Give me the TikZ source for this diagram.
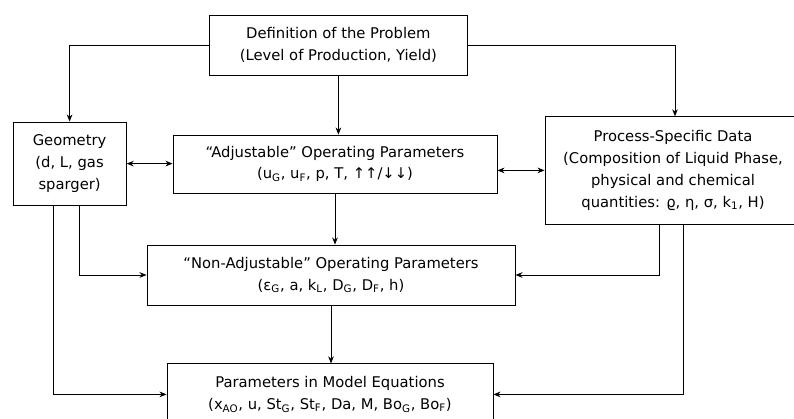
\documentclass[tikz,border=0pt]{standalone}
\usepackage{fontspec}
\setmainfont{DejaVu Sans}
\usetikzlibrary{arrows.meta,positioning,calc}

\begin{document}
\begin{tikzpicture}[
    box/.style={draw, line width=0.7pt, align=center, inner sep=2pt, font=\fontsize{10.5}{15.5}\selectfont},
    arr/.style={-{Stealth[length=5pt,width=4pt]}, line width=0.6pt},
    biarr/.style={{Stealth[length=5pt,width=4pt]}-{Stealth[length=5pt,width=4pt]}, line width=0.6pt}
]
\useasboundingbox (0,0) rectangle (19.85,-10.475);

\node[box, minimum width=6.43cm, minimum height=1.5cm] (def) at (8.46,-1.125) {Definition of the Problem\\(Level of Production, Yield)};
\node[box, minimum width=2.83cm, minimum height=2.08cm] (geo) at (1.74,-4.09) {Geometry\\(d, L, gas\\sparger)};
\node[box, minimum width=8.1cm, minimum height=1.45cm] (adj) at (8.375,-4.1) {``Adjustable'' Operating Parameters\\(u\textsubscript{G}, u\textsubscript{F}, p, T, ↑↑/↓↓)};
\node[box, minimum width=6.4cm, minimum height=2.68cm] (proc) at (16.825,-4.26) {Process-Specific Data\\(Composition of Liquid Phase,\\physical and chemical\\quantities: ϱ, η, σ, k\textsubscript{1}, H)};
\node[box, minimum width=9.2cm, minimum height=1.5cm] (nonadj) at (8.275,-6.875) {``Non-Adjustable'' Operating Parameters\\(ε\textsubscript{G}, a, k\textsubscript{L}, D\textsubscript{G}, D\textsubscript{F}, h)};
\node[box, minimum width=8.15cm, minimum height=1.525cm] (par) at (8.25,-9.86) {Parameters in Model Equations\\(x\textsubscript{AO}, u, St\textsubscript{G}, St\textsubscript{F}, Da, M, Bo\textsubscript{G}, Bo\textsubscript{F})};

% from the problem definition
\draw[arr] (def.west) -| (geo.north);
\draw[arr] (def.east) -| ([xshift=0.05cm]proc.north);
\draw[arr] (def.south) -- (def.south |- adj.north);

% side inputs
\draw[biarr] (geo.east) -- (geo.east -| adj.west);
\draw[biarr] (adj.east |- proc.west) -- (proc.west);

% down the middle
\draw[arr] (adj.south) -- (adj.south |- nonadj.north);
\draw[arr] (nonadj.south) -- (nonadj.south |- par.north);

\draw[arr] ([xshift=0.24cm]geo.south) |- (nonadj.west);
\draw[arr] ([xshift=-0.41cm]geo.south) |- (par.west);
\draw[arr] ([xshift=-0.35cm]proc.south) |- (nonadj.east);
\draw[arr] ([xshift=0.25cm]proc.south) |- (par.east);
\end{tikzpicture}
\end{document}
